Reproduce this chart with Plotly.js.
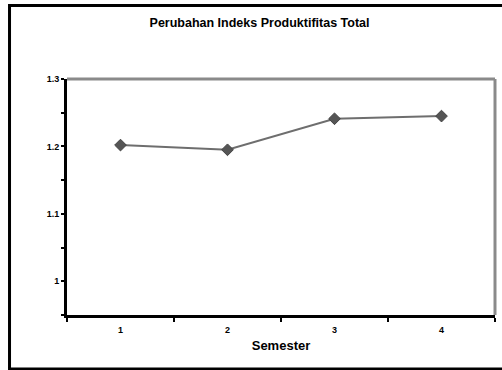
<!DOCTYPE html>
<html>
<head>
<meta charset="utf-8">
<script src="https://cdn.plot.ly/plotly-3.0.1.min.js"></script>
<style>html,body{margin:0;padding:0;background:#fff;}#chart{width:502px;height:370px;}</style>
</head>
<body>
<div id="chart"></div>
<script>
const semesters = [1, 2, 3, 4];
const tfpIndex = [1.202, 1.195, 1.241, 1.245];
const yTickVals = [1.0, 1.1, 1.2, 1.3];
const yTickText = ["1", "1.1", "1.2", "1.3"];
const chartTitle = "Perubahan Indeks Produktifitas Total";
const xTitle = "Semester";

const font = "Liberation Sans, Arial, sans-serif";

const trace = {
  x: semesters,
  y: tfpIndex,
  type: "scatter",
  mode: "lines+markers",
  line: {color: "#6e6e6e", width: 2},
  marker: {symbol: "diamond", size: 9, color: "#555555", line: {color: "#444444", width: 1}},
  hoverinfo: "x+y"
};

const layout = {
  width: 502,
  height: 370,
  margin: {l: 67, r: 7, t: 79, b: 55},
  paper_bgcolor: "#ffffff",
  plot_bgcolor: "#ffffff",
  showlegend: false,
  title: {
    text: "<b>" + chartTitle + "</b>",
    font: {family: font, size: 12.5, color: "#000"},
    x: 0.517, xanchor: "center",
    y: 0.94, yanchor: "middle"
  },
  xaxis: {
    range: [0.5, 4.5],
    tickvals: semesters,
    ticktext: semesters.map(String),
    ticks: "outside",
    ticklen: 4,
    tickcolor: "rgba(0,0,0,0)",
    tickfont: {family: font, size: 9, color: "#000", weight: "bold"},
    showline: true,
    linecolor: "#000",
    linewidth: 3,
    showgrid: false,
    zeroline: false,
    minor: {tickvals: [0.5, 1.5, 2.5, 3.5, 4.5], ticks: "outside", ticklen: 4, tickwidth: 2, tickcolor: "#000"},
    title: {text: "<b>" + xTitle + "</b>", font: {family: font, size: 13, color: "#000"}, standoff: 8},
    fixedrange: true
  },
  yaxis: {
    range: [0.95, 1.3],
    tickvals: yTickVals,
    ticktext: yTickText,
    ticks: "outside",
    ticklen: 3,
    tickwidth: 2,
    tickcolor: "#000",
    tickfont: {family: font, size: 9, color: "#000", weight: "bold"},
    showline: true,
    linecolor: "#000",
    linewidth: 3,
    showgrid: false,
    zeroline: false,
    minor: {tickvals: [0.95, 1.05, 1.15, 1.25], ticks: "outside", ticklen: 3, tickwidth: 2, tickcolor: "#000"},
    fixedrange: true
  },
  shapes: [
    {type: "line", xref: "paper", yref: "paper", x0: 0, x1: 1, y0: 1, y1: 1, line: {color: "#8a8a8a", width: 3}},
    {type: "line", xref: "paper", yref: "paper", x0: 1, x1: 1, y0: 0, y1: 1, line: {color: "#8a8a8a", width: 3}},
    {type: "rect", xref: "paper", yref: "paper", x0: -0.1343, x1: 1.045, y0: -0.2288, y1: 1.3114, line: {color: "#000", width: 3}, fillcolor: "rgba(0,0,0,0)", layer: "below"}
  ]
};

Plotly.newPlot("chart", [trace], layout, {displayModeBar: false, staticPlot: true});
</script>
</body>
</html>
